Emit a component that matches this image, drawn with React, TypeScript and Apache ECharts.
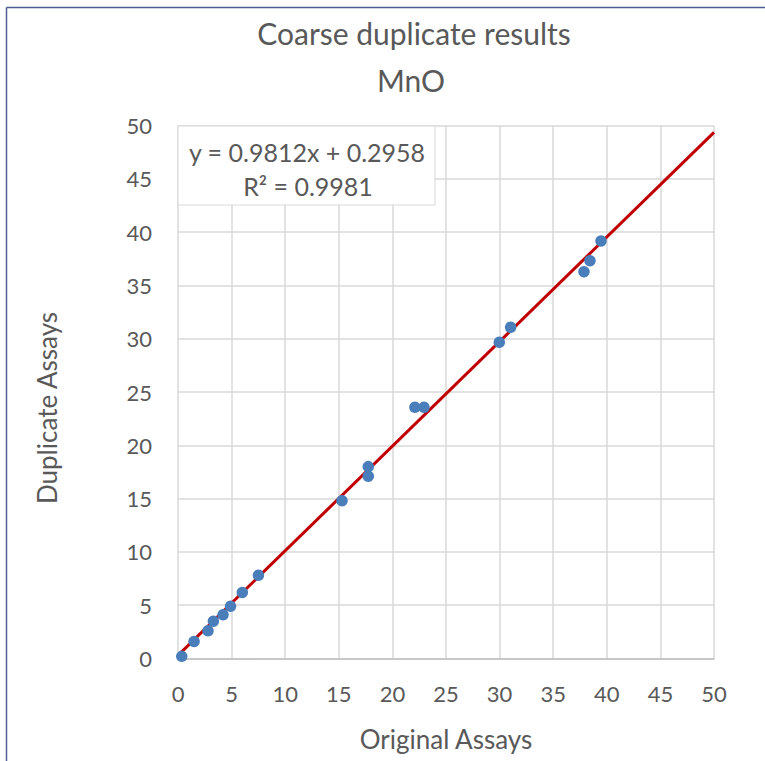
import React, { useEffect, useRef } from "react";
import * as echarts from "echarts";

const originalAssays = [0.35, 1.5, 2.8, 3.3, 4.2, 4.9, 6.0, 7.5, 15.3, 17.75, 17.75, 22.1, 22.95, 29.97, 31.03, 37.87, 38.43, 39.46];
const duplicateAssays = [0.2, 1.6, 2.6, 3.5, 4.1, 4.9, 6.2, 7.8, 14.8, 18.0, 17.1, 23.56, 23.56, 29.66, 31.07, 36.29, 37.32, 39.17];
const slope = 0.9812;
const intercept = 0.2958;
const trendX = [0, 50];
const titleText = "Coarse duplicate results";
const subtitleText = "MnO";
const xName = "Original Assays";
const yName = "Duplicate Assays";
const equationText = "y = 0.9812x + 0.2958";
const r2Text = "R² = 0.9981";

const FONT = "Lato, 'Open Sans', sans-serif";
const GREY = "#595959";

export default function App() {
  const ref = useRef<HTMLDivElement>(null);
  useEffect(() => {
    document.body.style.margin = "0";
    const chart = echarts.init(ref.current!, null, { renderer: "svg" });
    const points = originalAssays.map((x, i) => [x, duplicateAssays[i]]);
    const trend = trendX.map((x) => [x, slope * x + intercept]);
    const txt = (text: string, x: number, y: number, size: number, extra: any = {}) => ({
      type: "text", x, y, z: 11, ...extra,
      style: { text, fontSize: size, fill: GREY, align: "center", verticalAlign: "middle", fontFamily: FONT },
    });
    chart.setOption({
      animation: false,
      backgroundColor: "#ffffff",
      textStyle: { fontFamily: FONT },
      grid: { left: 178, right: 51, top: 125.5, bottom: 102.5 },
      xAxis: {
        type: "value", min: 0, max: 50, interval: 5,
        axisLine: { show: true, lineStyle: { color: "#bfbfbf", width: 1.5 } },
        axisTick: { show: false },
        axisLabel: { fontSize: 22, color: GREY, margin: 24, fontFamily: FONT },
        splitLine: { show: true, lineStyle: { color: "#d9d9d9", width: 1.5 } },
      },
      yAxis: {
        type: "value", min: 0, max: 50, interval: 5,
        axisLine: { show: false },
        axisTick: { show: false },
        axisLabel: { fontSize: 22, color: GREY, margin: 26, fontFamily: FONT },
        splitLine: { show: true, lineStyle: { color: "#d9d9d9", width: 1.5 } },
      },
      series: [
        {
          type: "line", data: trend, showSymbol: false, symbol: "none",
          lineStyle: { color: "#c00000", width: 3 }, z: 2,
        },
        {
          type: "scatter", data: points, symbolSize: 11.5,
          itemStyle: { color: "#4a7ebb", opacity: 1 }, z: 3,
        },
      ],
      graphic: [
        { type: "line", shape: { x1: 6.5, y1: 7.5, x2: 6.5, y2: 761 }, style: { stroke: "#4f5f95", lineWidth: 1.5 } },
        { type: "line", shape: { x1: 6.5, y1: 7.5, x2: 765, y2: 7.5 }, style: { stroke: "#4f5f95", lineWidth: 1.5 } },
        txt(titleText, 414, 33, 30),
        txt(subtitleText, 411, 80, 30),
        txt(xName, 446, 739, 26),
        txt(yName, 47, 408, 26, { rotation: Math.PI / 2 }),
        { type: "rect", shape: { x: 178, y: 126, width: 257, height: 79 }, style: { fill: "#ffffff", stroke: "#d9d9d9", lineWidth: 1 }, z: 10 },
        txt(equationText, 307, 152, 25),
        txt(r2Text, 308, 186, 25),
      ],
    });
    return () => chart.dispose();
  }, []);
  return <div ref={ref} style={{ width: 765, height: 761 }} />;
}
